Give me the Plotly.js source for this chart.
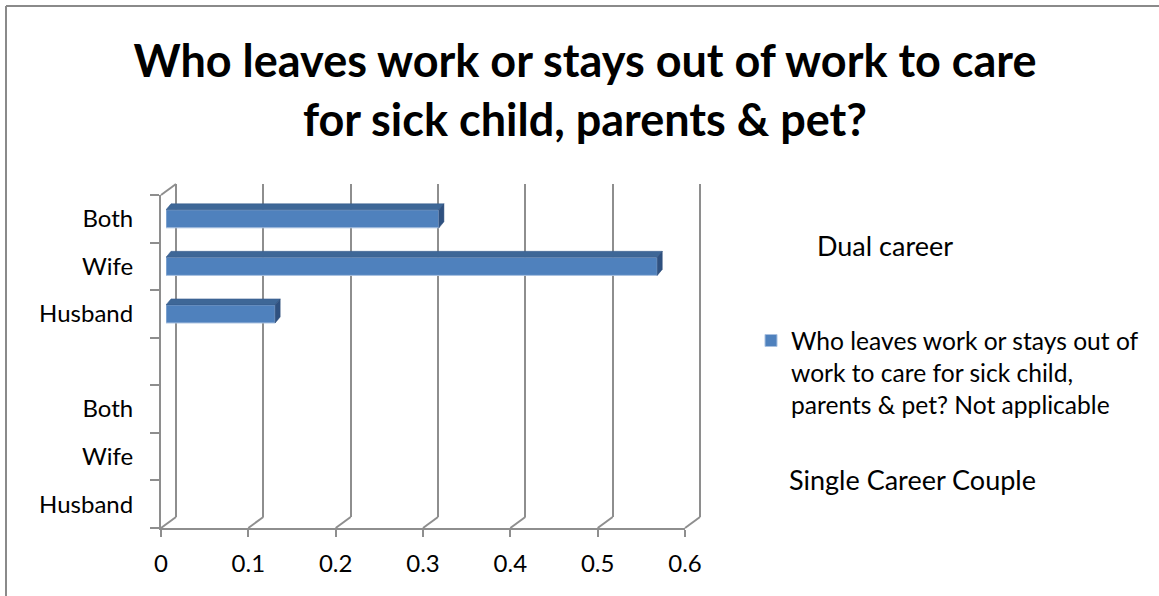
<!DOCTYPE html>
<html>
<head>
<meta charset="utf-8">
<script src="https://cdn.plot.ly/plotly-3.0.1.min.js"></script>
<style>
  html, body { margin: 0; padding: 0; background: #ffffff; }
  #chart { width: 1159px; height: 596px; }
</style>
</head>
<body>
<div id="chart"></div>
<script>
// ---- data ----
const roles = ['Husband', 'Wife', 'Both'];
const singleCareer = [null, null, null];          // Single Career Couple: not applicable
const dualCareer = [0.125, 0.5625, 0.3125];       // Dual career
const xTicks = [0, 0.1, 0.2, 0.3, 0.4, 0.5, 0.6];
const seriesName = 'Who leaves work or stays out of<br>work to care for sick child,<br>parents &amp; pet? Not applicable';
const chartTitle = 'Who leaves work or stays out of work to care<br>for sick child, parents &amp; pet?';
const groupLabels = { dual: 'Dual career', single: 'Single Career Couple' };

// ---- category layout: single career group, spacer, dual career group ----
const catIds = [];
const catText = [];
const catVals = [];
roles.forEach((r, i) => { catIds.push('single-' + r); catText.push(r); catVals.push(singleCareer[i]); });
catIds.push('gap'); catText.push(''); catVals.push(null);
roles.forEach((r, i) => { catIds.push('dual-' + r); catText.push(r); catVals.push(dualCareer[i]); });

// ---- geometry (pixels) ----
const W = 1159, H = 596;
const fx = v => v / W;
const fy = v => 1 - v / H;
const DX = 15, DY = 11;                 // depth offset of the back wall
const front = { l: 161, r: 685, t: 195, b: 528 };
const back = { l: front.l + DX, r: front.r + DX, t: front.t - DY, b: front.b - DY };
const barShift = 5;                     // bars sit slightly behind the front plane
const xMax = 0.6;
const xPad = 0.005;                     // keeps the last gridline inside the back wall
const barWidth = 0.38;
const pxPerUnit = (front.r - front.l) / xMax;
const pxPerCat = (front.b - front.t) / catIds.length;
const depth = { dx: 5, dy: 6 };

const gridColor = '#8e8e8e';
const font = 'Lato, "Open Sans", sans-serif';
const barColor = '#4F81BD';

// back wall subplot (gridlines only)
const wallTrace = {
  type: 'scatter', mode: 'markers', x: [], y: [],
  xaxis: 'x', yaxis: 'y', showlegend: false, hoverinfo: 'skip'
};
// front plane carries the category axis; the single-career rows have no bars
const singleTrace = {
  type: 'bar',
  orientation: 'h',
  y: catIds.slice(0, roles.length),
  x: singleCareer,
  xaxis: 'x2',
  yaxis: 'y2',
  width: barWidth,
  showlegend: false,
  marker: { color: barColor },
  hoverinfo: 'skip'
};
const dualTrace = {
  type: 'bar',
  orientation: 'h',
  y: catIds,
  x: catVals,
  xaxis: 'x3',
  yaxis: 'y3',
  width: barWidth,
  name: seriesName,
  marker: { color: barColor, line: { color: '#a9c1e0', width: 1 } },
  hoverinfo: 'x'
};

const shapes = [];
const lineStyle = { color: gridColor, width: 2 };
// diagonal floor edges under each gridline
xTicks.forEach(v => {
  const xf = front.l + v * pxPerUnit;
  shapes.push({
    type: 'line', xref: 'paper', yref: 'paper',
    x0: fx(xf), y0: fy(front.b), x1: fx(xf + DX), y1: fy(back.b),
    line: lineStyle, layer: 'below'
  });
});
// top edge of the left wall
shapes.push({
  type: 'line', xref: 'paper', yref: 'paper',
  x0: fx(front.l), y0: fy(front.t), x1: fx(back.l), y1: fy(back.t),
  line: lineStyle, layer: 'below'
});

// top and end faces of the 3-D bars
catVals.forEach((v, i) => {
  if (v == null) return;
  const L = v * pxPerUnit;
  const h = barWidth * pxPerCat;
  shapes.push({
    type: 'path', xref: 'x3', yref: 'y3', xsizemode: 'pixel', ysizemode: 'pixel',
    xanchor: 0, yanchor: i + barWidth / 2,
    path: `M0,0 L${L},0 L${L + depth.dx},${depth.dy} L${depth.dx},${depth.dy} Z`,
    fillcolor: '#3E6797', line: { color: '#35598a', width: 0.5 }, layer: 'above'
  });
  shapes.push({
    type: 'path', xref: 'x3', yref: 'y3', xsizemode: 'pixel', ysizemode: 'pixel',
    xanchor: v, yanchor: i,
    path: `M0,${-h / 2} L0,${h / 2} L${depth.dx},${h / 2 + depth.dy} L${depth.dx},${-h / 2 + depth.dy} Z`,
    fillcolor: '#2F5180', line: { color: '#2a4a76', width: 0.5 }, layer: 'above'
  });
});

// chart border (top and left edges)
shapes.push({ type: 'line', xref: 'paper', yref: 'paper', x0: fx(6), x1: 1, y0: fy(6), y1: fy(6), line: { color: '#8a8a8a', width: 2 } });
shapes.push({ type: 'line', xref: 'paper', yref: 'paper', x0: fx(6), x1: fx(6), y0: fy(6), y1: 0, line: { color: '#8a8a8a', width: 2 } });

const catAxis = {
  type: 'category', categoryorder: 'array', categoryarray: catIds,
  range: [-0.5, catIds.length - 0.5], fixedrange: true
};

const layout = {
  width: W, height: H,
  margin: { l: 0, r: 0, t: 0, b: 0 },
  paper_bgcolor: '#ffffff', plot_bgcolor: 'rgba(0,0,0,0)',
  font: { family: font, color: '#000000', size: 24 },
  title: {
    text: chartTitle,
    font: { family: font, size: 45, weight: 'bold', color: '#000000' },
    x: fx(585), xanchor: 'center', y: fy(77), yanchor: 'middle'
  },
  showlegend: true,
  legend: {
    x: fx(751), xanchor: 'left', y: fy(318), yanchor: 'top',
    valign: 'top', font: { family: font, size: 24.6, color: '#000000' },
    bgcolor: 'rgba(0,0,0,0)'
  },
  // back wall with the gridlines
  xaxis: {
    domain: [fx(back.l), fx(back.l + (xMax + xPad) * pxPerUnit)], range: [0, xMax + xPad], anchor: 'y',
    tickvals: xTicks, showticklabels: false, ticks: '',
    showgrid: true, gridcolor: gridColor, gridwidth: 2,
    zeroline: true, zerolinecolor: gridColor, zerolinewidth: 2,
    showline: false, fixedrange: true
  },
  yaxis: Object.assign({}, catAxis, {
    domain: [fy(back.b), fy(back.t)], anchor: 'x',
    showticklabels: false, ticks: '', showgrid: false, zeroline: false, showline: false
  }),
  // front plane with the axis lines and labels
  xaxis2: {
    domain: [fx(front.l), fx(front.r)], range: [0, xMax], anchor: 'y2',
    tickmode: 'array', tickvals: xTicks, ticktext: xTicks.map(String),
    ticks: 'outside', ticklen: 7, tickwidth: 2, tickcolor: gridColor,
    showline: true, linecolor: gridColor, linewidth: 2,
    showgrid: false, zeroline: false,
    tickfont: { family: font, size: 24, color: '#000000' }, ticklabelstandoff: 6, fixedrange: true
  },
  yaxis2: Object.assign({}, catAxis, {
    domain: [fy(front.b), fy(front.t)], anchor: 'x2',
    tickmode: 'array', tickvals: catIds, ticktext: catText, tickson: 'boundaries',
    ticks: 'outside', ticklen: 9, tickwidth: 2, tickcolor: gridColor,
    showline: true, linecolor: gridColor, linewidth: 2,
    showgrid: false, zeroline: false,
    tickfont: { family: font, size: 24, color: '#000000' }, ticklabelstandoff: 21
  }),
  // bars
  xaxis3: {
    domain: [fx(front.l + barShift), fx(front.r + barShift)], range: [0, xMax], anchor: 'y3',
    visible: false, fixedrange: true
  },
  yaxis3: Object.assign({}, catAxis, {
    domain: [fy(front.b), fy(front.t)], anchor: 'x3', visible: false
  }),
  annotations: [
    { xref: 'paper', yref: 'paper', x: fx(815), y: fy(245), xanchor: 'left', yanchor: 'middle',
      text: groupLabels.dual, showarrow: false, font: { family: font, size: 27, color: '#000000' } },
    { xref: 'paper', yref: 'paper', x: fx(787), y: fy(480), xanchor: 'left', yanchor: 'middle',
      text: groupLabels.single, showarrow: false, font: { family: font, size: 27, color: '#000000' } }
  ],
  shapes: shapes
};

Plotly.newPlot('chart', [wallTrace, singleTrace, dualTrace], layout, { displayModeBar: false, staticPlot: true });
</script>
</body>
</html>
